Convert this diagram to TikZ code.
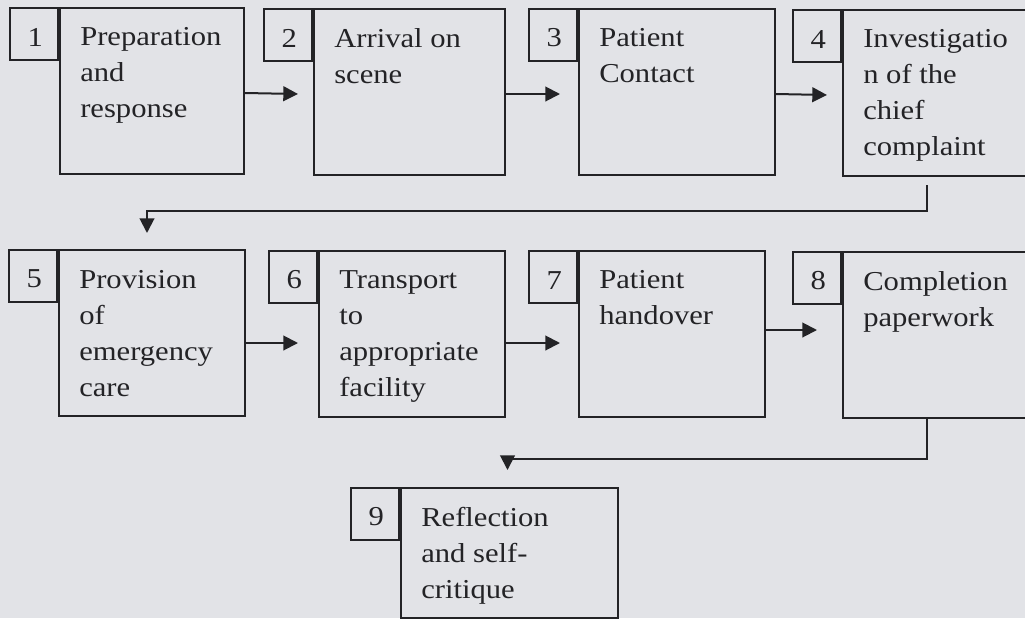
\documentclass[tikz,border=0pt]{standalone}
\usepackage{xcolor}
\usepackage{fontspec}
\setmainfont{Liberation Serif}[FakeStretch=1.12]
\usetikzlibrary{positioning,calc,arrows.meta}
\definecolor{paper}{RGB}{226,227,231}
\definecolor{ink}{RGB}{35,35,38}

\begin{document}
\begin{tikzpicture}[x=0.75pt,y=0.75pt,yscale=-1,xscale=1,
        stepbox/.style={draw=ink, line width=1.5pt, inner sep=0pt, minimum height=124.5pt, anchor=north west},
        numbox/.style={draw=ink, line width=1.5pt, inner sep=0pt, minimum width=36pt, minimum height=39pt, text width=13.5pt, text height=18pt, align=right, text=ink, font=\fontsize{20.5}{27}\selectfont, anchor=north east},
        steptext/.style={inner sep=0pt, align=left, anchor=north west, text=ink, font=\fontsize{20.5}{27}\selectfont, execute at begin node=\strut},
        flow/.style={draw=ink, line width=1.5pt, -{Triangle[length=11pt,width=11pt]}}]
        \path[use as bounding box, fill=paper] (0,0) rectangle (1025,618);
        \clip (0,0) rectangle (1025,618);

        \node[stepbox, minimum width=138pt] (b1) at (59,7) {};
        \node[stepbox, minimum width=143.25pt] (b2) at (313,8) {};
        \node[stepbox, minimum width=147pt] (b3) at (578,8) {};
        \node[stepbox, minimum width=150pt] (b4) at (842,9) {};
        \node[stepbox, minimum width=139.5pt] (b5) at (58,249) {};
        \node[stepbox, minimum width=139.5pt] (b6) at (318,250) {};
        \node[stepbox, minimum width=139.5pt] (b7) at (578,250) {};
        \node[stepbox, minimum width=150pt] (b8) at (842,251) {};
        \node[stepbox, minimum width=162.75pt, minimum height=97.5pt] (b9) at (400,487) {};

        \node[numbox] (n1) at (b1.north west) {1};
        \node[numbox] (n2) at (b2.north west) {2};
        \node[numbox] (n3) at (b3.north west) {3};
        \node[numbox] (n4) at (b4.north west) {4};
        \node[numbox] (n5) at (b5.north west) {5};
        \node[numbox] (n6) at (b6.north west) {6};
        \node[numbox] (n7) at (b7.north west) {7};
        \node[numbox] (n8) at (b8.north west) {8};
        \node[numbox] (n9) at (b9.north west) {9};

        \node[steptext] (s1) at ($(b1.north west)+(21,20)$) {Preparation\\and\\response};
        \node[steptext] (s2) at ($(b2.north west)+(21,20)$) {Arrival on\\scene};
        \node[steptext] (s3) at ($(b3.north west)+(21,20)$) {Patient\\Contact};
        \node[steptext] (s4) at ($(b4.north west)+(21,20)$) {Investigatio\\n of the\\chief\\complaint};
        \node[steptext] (s5) at ($(b5.north west)+(21,21)$) {Provision\\of\\emergency\\care};
        \node[steptext] (s6) at ($(b6.north west)+(21,20)$) {Transport\\to\\appropriate\\facility};
        \node[steptext] (s7) at ($(b7.north west)+(21,20)$) {Patient\\handover};
        \node[steptext] (s8) at ($(b8.north west)+(21,20)$) {Completion\\paperwork};
        \node[steptext] (s9) at ($(b9.north west)+(21,20)$) {Reflection\\and self-\\critique};

        \draw[flow] ($(b1.east)+(0,2)$) -- ($(b2.west)+(-15,2)$);
        \draw[flow] ($(b2.east)+(0,2)$) -- ($(b3.west)+(-18,2)$);
        \draw[flow] ($(b3.east)+(0,2)$) -- ($(b4.west)+(-15,2)$);
        \draw[flow] ($(b5.east)+(0,10)$) -- ($(b6.west)+(-20,9)$);
        \draw[flow] ($(b6.east)+(0,9)$) -- ($(b7.west)+(-18,9)$);
        \draw[flow] ($(b7.east)+(0,-4)$) -- ($(b8.west)+(-25,-5)$);

        \coordinate (t5) at ($(b5.north)+(-5,-16)$);
        \coordinate (t9) at ($(b9.north)+(-2,-17)$);
        \draw[flow] ($(b4.south west)+(85,8)$) -- ++(0,26) -| (t5);
        \draw[flow] ($(b8.south west)+(85,0)$) -- ++(0,40) -| (t9);
\end{tikzpicture}
\end{document}
